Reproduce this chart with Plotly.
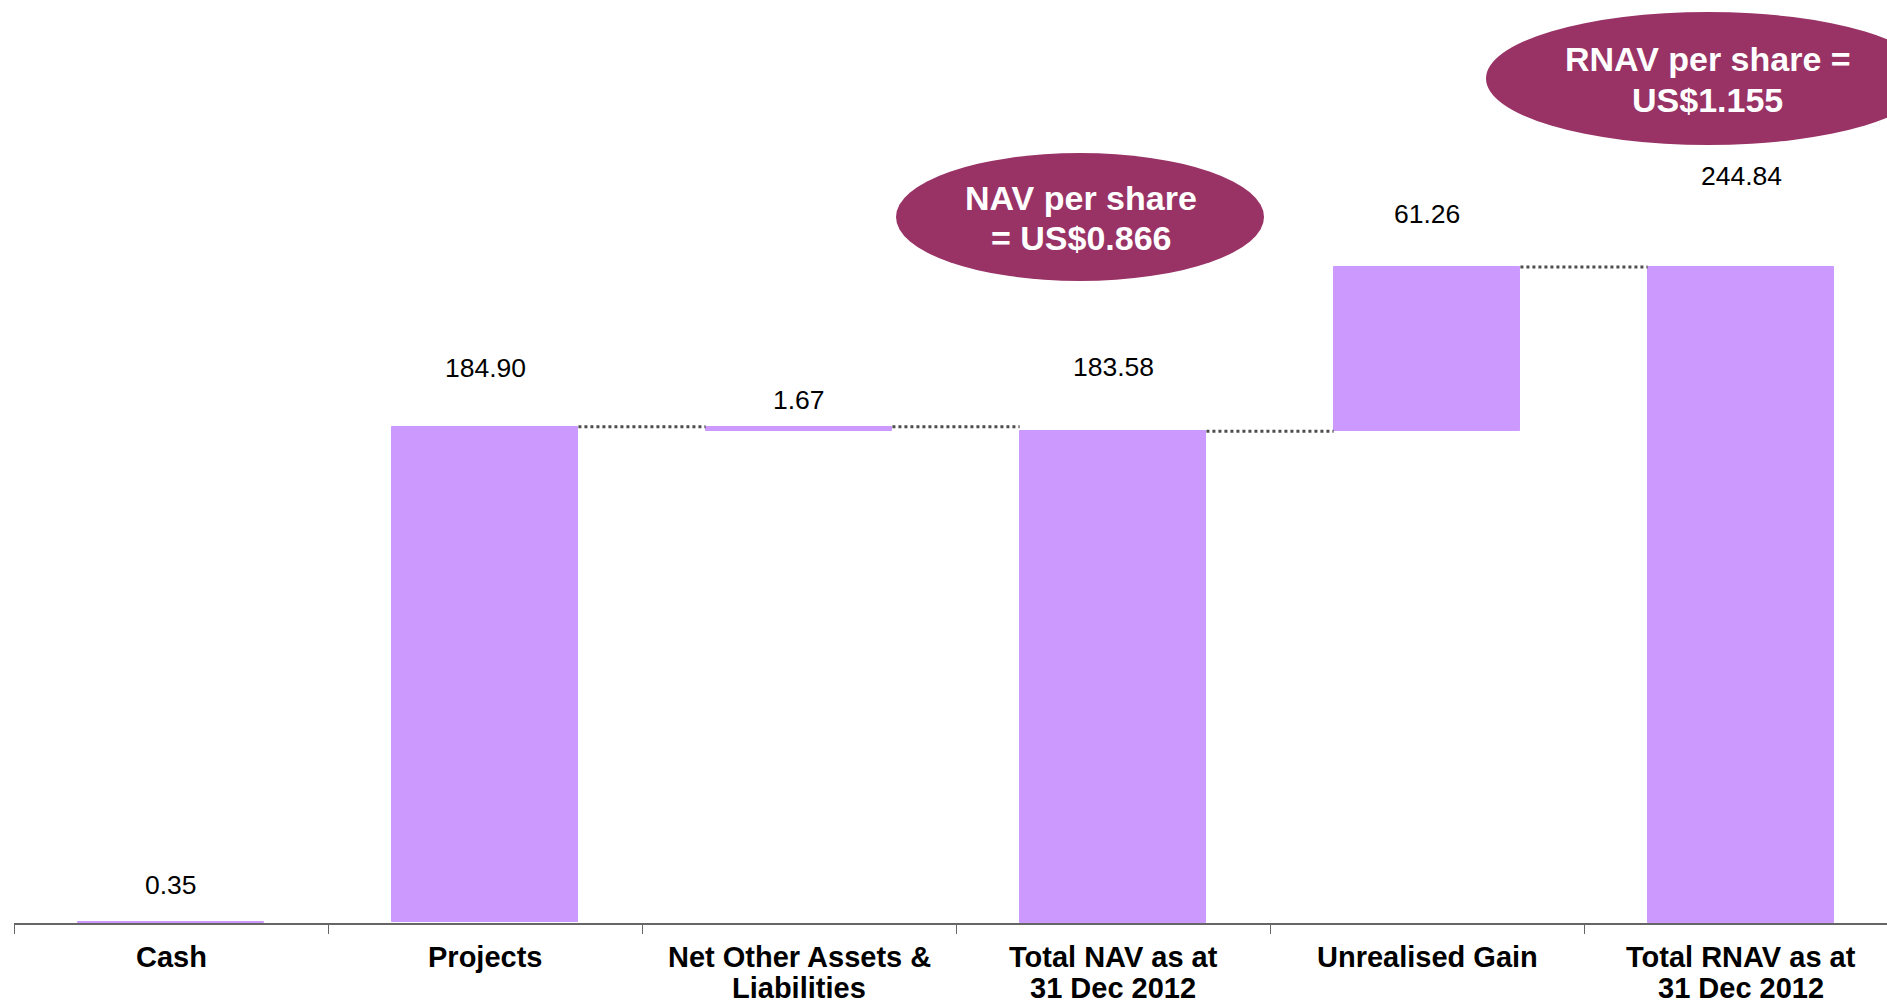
import plotly.graph_objects as go

# ---- data ----
categories = ["Cash", "Projects", "Net Other Assets &<br>Liabilities",
              "Total NAV as at<br>31 Dec 2012", "Unrealised Gain",
              "Total RNAV as at<br>31 Dec 2012"]
values = [0.35, 184.90, -1.67, 183.58, 61.26, 244.84]
measures = ["relative", "relative", "relative", "total", "relative", "total"]
value_labels = ["0.35", "184.90", "1.67", "183.58", "61.26", "244.84"]
callout_texts = ["NAV per share<br>= US$0.866", "RNAV per share =<br>US$1.155"]

# ---- style ----
BAR_COLOR = "#CC99FF"
CALLOUT_COLOR = "#993366"
FONT = "Liberation Sans, Arial, sans-serif"
BAR_WIDTH = 0.595
label_offsets = [37, 59, 27, 64, 53, 91]  # pixel offsets above bar tops

# waterfall geometry from data
bases, heights, tops = [], [], []
running = 0.0
for v, m in zip(values, measures):
    if m == "total":
        base = 0.0
        running = v
    else:
        base = running
        running += v
    bases.append(base)
    heights.append(v)
    tops.append(max(base, base + v))

xs = list(range(len(categories)))

fig = go.Figure()
fig.add_trace(go.Bar(
    x=xs, y=heights, base=bases, width=BAR_WIDTH,
    marker=dict(color=BAR_COLOR, line=dict(color=BAR_COLOR, width=1)),
    hoverinfo="skip", showlegend=False,
))

# dotted connectors from top of bar i to bar i+1
for i in range(1, len(categories) - 1):
    fig.add_trace(go.Scatter(
        x=[xs[i] + BAR_WIDTH / 2, xs[i + 1] - BAR_WIDTH / 2],
        y=[tops[i], tops[i]], mode="lines",
        line=dict(color="#4d4d4d", width=3, dash="dot"),
        hoverinfo="skip", showlegend=False,
    ))

annotations = []
for i, (t, lab, off) in enumerate(zip(tops, value_labels, label_offsets)):
    annotations.append(dict(
        x=xs[i], y=t, xref="x", yref="y", text=lab, showarrow=False,
        xanchor="center", yanchor="middle", yshift=off,
        font=dict(family=FONT, size=26.5, color="black"),
    ))
for i, cat in enumerate(categories):
    for j, line in enumerate(cat.split("<br>")):
        annotations.append(dict(
            x=xs[i], y=0, xref="x", yref="y", text="<b>%s</b>" % line, showarrow=False,
            xanchor="center", yanchor="middle", yshift=-34 - 31 * j,
            font=dict(family=FONT, size=29, color="black"),
        ))

shapes = [
    dict(type="circle", xref="paper", yref="paper", x0=0.4709, x1=0.6674,
         y0=0.6956, y1=0.8342, fillcolor=CALLOUT_COLOR, line=dict(width=0), layer="below"),
    dict(type="circle", xref="paper", yref="paper", x0=0.7859, x1=1.0230,
         y0=0.8429, y1=0.9870, fillcolor=CALLOUT_COLOR, line=dict(width=0), layer="below"),
]
callout_pos = [(0.5697, [198, 238]), (0.9044, [59, 100])]  # paper x, pixel y of each line
for (cx, ys), txt in zip(callout_pos, callout_texts):
    for line, py in zip(txt.split("<br>"), ys):
        annotations.append(dict(x=cx, y=(923 - py) / 923, xref="paper", yref="paper",
                                text="<b>%s</b>" % line, showarrow=False,
                                xanchor="center", yanchor="middle",
                                font=dict(family=FONT, size=34, color="white")))

fig.update_layout(
    width=1887, height=1004,
    margin=dict(l=14, r=0, t=0, b=81),
    paper_bgcolor="white", plot_bgcolor="white",
    xaxis=dict(range=[-0.5, -0.5 + 1873 / 314], showgrid=False, zeroline=False,
               showline=True, linecolor="#666666", linewidth=1.5,
               tickvals=xs, ticktext=[""] * len(xs), ticks="",
               minor=dict(tickvals=[i - 0.5 for i in range(len(xs) + 1)],
                          ticks="outside", ticklen=9, tickwidth=1, tickcolor="#666666",
                          showgrid=False)),
    yaxis=dict(range=[0, 923 / 2.679], visible=False, showgrid=False, zeroline=False),
    shapes=shapes,
    annotations=annotations,
    bargap=0,
)

fig.write_html("out.html", config={"displayModeBar": False},
               post_script="document.body.style.margin='0';document.body.style.overflow='hidden';")
